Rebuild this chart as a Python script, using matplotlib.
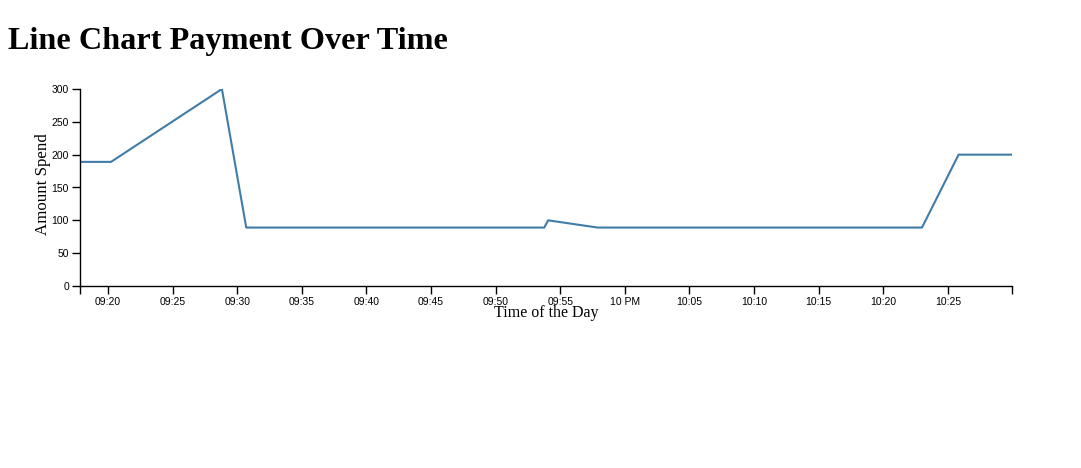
import matplotlib
matplotlib.use("Agg")
import matplotlib.pyplot as plt
import matplotlib.dates as mdates
from datetime import datetime

# Data (time of day, amount spend)
times = ["21:17:50", "21:20:14", "21:28:49", "21:30:42", "21:53:46",
         "21:54:04", "21:57:54", "22:23:00", "22:25:50", "22:29:58"]
amounts = [189, 189, 300, 89, 89, 100, 89, 89, 200, 200]

tick_times = ["21:20", "21:25", "21:30", "21:35", "21:40", "21:45", "21:50",
              "21:55", "22:00", "22:05", "22:10", "22:15", "22:20", "22:25"]
tick_labels = ["09:20", "09:25", "09:30", "09:35", "09:40", "09:45", "09:50",
               "09:55", "10 PM", "10:05", "10:10", "10:15", "10:20", "10:25"]
y_ticks = [0, 50, 100, 150, 200, 250, 300]

base = "2020-01-01 "
x = [datetime.strptime(base + t, "%Y-%m-%d %H:%M:%S") for t in times]
xt = [datetime.strptime(base + t, "%Y-%m-%d %H:%M") for t in tick_times]

W, H = 1081, 468
fig = plt.figure(figsize=(W / 100, H / 100), dpi=100)
ax = fig.add_axes([80 / W, 1 - 286 / H, (1012 - 80) / W, (286 - 89) / H])

ax.plot(x, amounts, color="#3f7ca8", linewidth=1.5)
ax.set_xlim(x[0], x[-1])
ax.set_ylim(0, 300)

for s in ["top", "right"]:
    ax.spines[s].set_visible(False)
for s in ["left", "bottom"]:
    ax.spines[s].set_linewidth(1)
    ax.spines[s].set_color("black")

# outer ticks at ends like d3
xticks_all = [x[0]] + xt + [x[-1]]
ax.set_xticks(xticks_all)
ax.set_xticklabels([""] + tick_labels + [""])
ax.set_yticks(y_ticks)
ax.set_yticklabels([str(v) for v in y_ticks])
ax.tick_params(axis="both", direction="out", length=6, width=1, pad=2,
               labelsize=7.5, colors="black")
for lbl in ax.get_xticklabels() + ax.get_yticklabels():
    lbl.set_family(["Liberation Sans", "DejaVu Sans"])

ax.set_xlabel("Time of the Day", family="Liberation Serif", fontsize=11.5, labelpad=-1.5)
ax.set_ylabel("Amount Spend", family="Liberation Serif", fontsize=12.2, labelpad=0)
ax.yaxis.set_label_coords(-29 / (1012 - 80), (286 - 184.5) / (286 - 89))

fig.text(8 / W, 1 - 49 / H, "Line Chart Payment Over Time", family="Liberation Serif",
         fontweight="bold", fontsize=23.2, ha="left", va="baseline")

fig.savefig("out.png", dpi=100)
